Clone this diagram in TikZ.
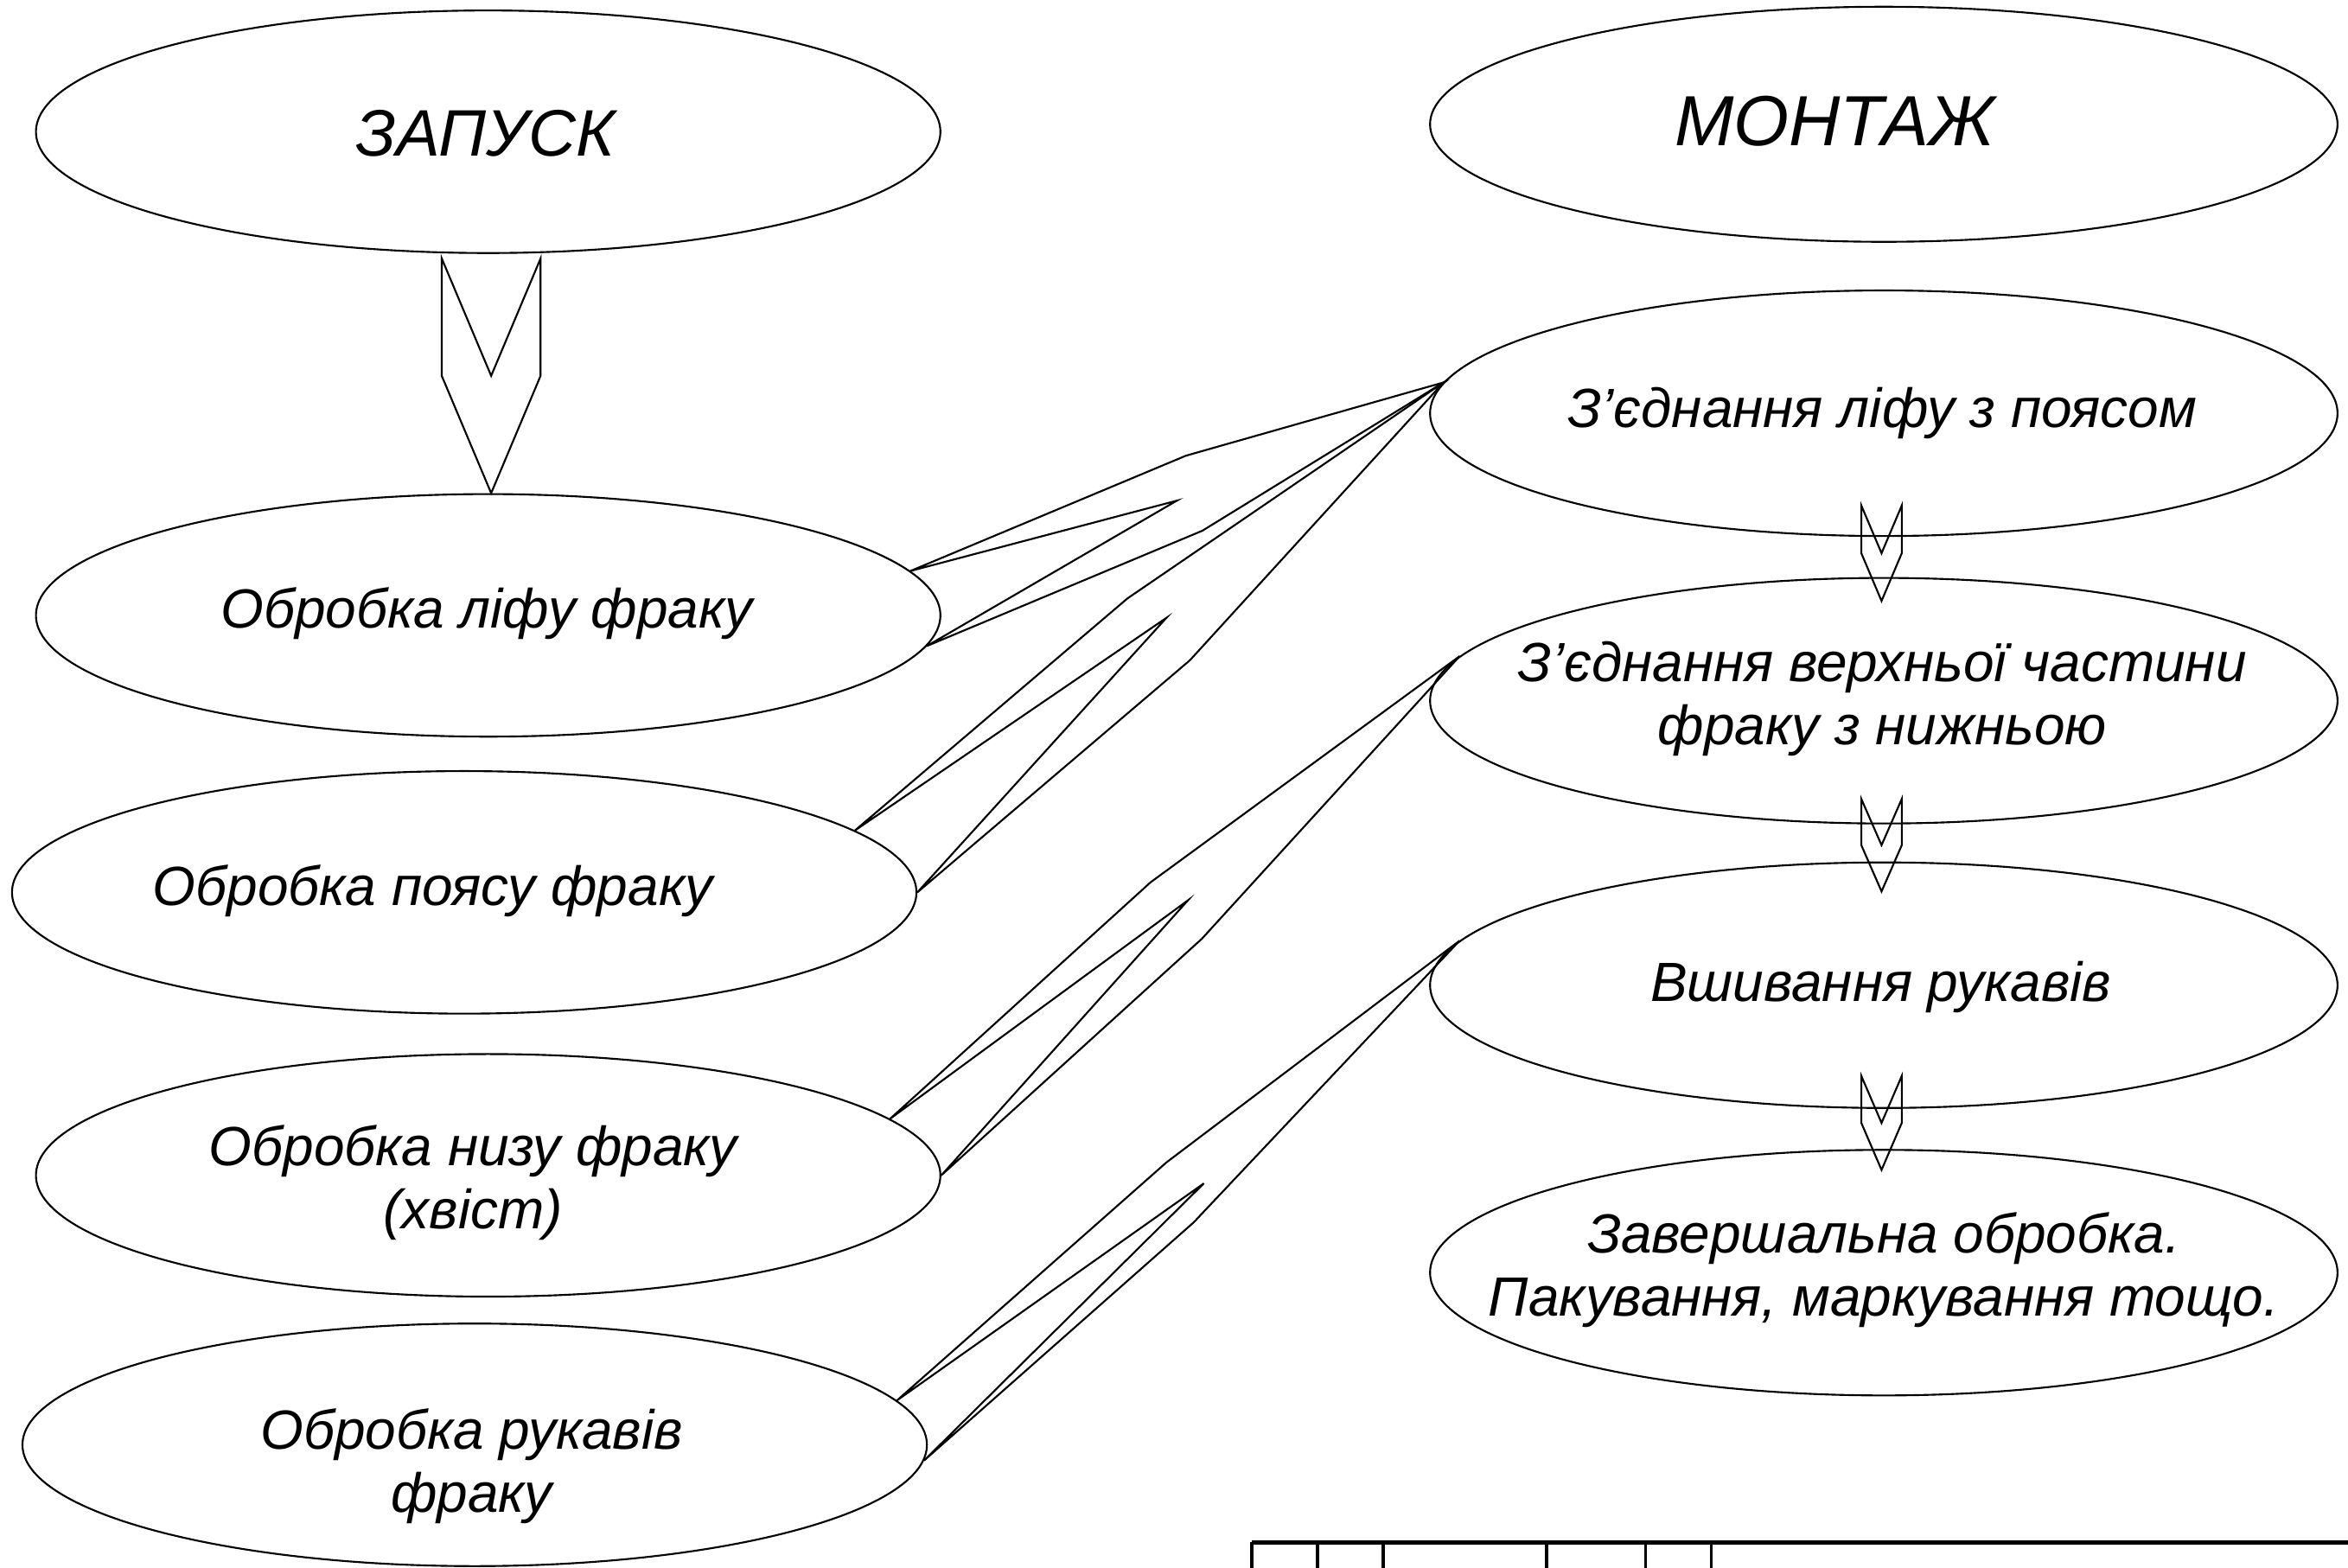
\documentclass[tikz,border=0pt]{standalone}
\usepackage{fontspec}
\setmainfont{Liberation Sans}
\usepackage{tikz}
\usetikzlibrary{calc, shapes.geometric}

\begin{document}
\begin{tikzpicture}[x = 0.1mm, y = -0.1mm,
		outl/.style = {line width = 0.35pt, line join = miter},
		stage/.style = {outl, draw, ellipse, inner sep = 0pt, minimum width = 6.04cm, minimum height = 1.62cm},
		rstage/.style = {stage, minimum width = 6.06cm, minimum height = 1.64cm},
		stagetext/.style = {inner sep = 0pt, align = center, font = \itshape\fontsize{10.5}{12}\selectfont},
		headtext/.style = {inner sep = 0pt, font = \itshape\fontsize{12.5}{15}\selectfont}]

		\def\vchevron#1#2#3{%
			\draw [outl] ($ (#1) + (-#3,0) $) -- ($ (#1)!0.5!(#2) $) -- ($ (#1) + (#3,0) $) -- ($ (#1)!0.5!(#2) + (#3,0) $) -- (#2) -- ($ (#1)!0.5!(#2) + (-#3,0) $) -- cycle;}
		\def\broadarrow#1#2#3#4#5{%
			\draw [outl] (#1) -- ($ (#1) + (#4) $) -- (#3) -- ($ (#2) + (#4) $) -- (#2) -- ($ (#1) + (#5) $) -- cycle;}

		\useasboundingbox (0,0) rectangle (1568,1047);

		% left column
		\node [stage] (zapusk) at (326,88) {};
		\node [stage] (lif) at (326,411) {};
		\node [stage] (poyas) at (310,596) {};
		\node [stage] (niz) at (326,785) {};
		\node [stage] (rukava) at (317,965) {};

		\node [headtext] (zapusk-t) at (324,89) {ЗАПУСК};
		\node [stagetext] (lif-t) at (325,410) {Обробка ліфу фраку};
		\node [stagetext] (poyas-t) at (289,595) {Обробка поясу фраку};
		\node [stagetext] (niz-t) at (316,790) {Обробка низу фраку\\(хвіст)};
		\node [stagetext] (rukava-t) at (315,979) {Обробка рукавів\\фраку};

		% right column
		\node [rstage, minimum height = 1.57cm] (montazh) at (1258,83) {};
		\node [rstage] (zlif) at (1258,276) {};
		\node [rstage] (zverh) at (1258,468) {};
		\node [rstage] (vshyv) at (1258,658) {};
		\node [rstage] (zaversh) at (1258,850) {};

		\node [headtext, font = \itshape\fontsize{13.5}{16}\selectfont] (montazh-t) at (1225,81) {МОНТАЖ};
		\node [stagetext] (zlif-t) at (1257,276) {З’єднання ліфу з поясом};
		\node [stagetext] (zverh-t) at (1257,467) {З’єднання верхньої частини\\фраку з нижньою};
		\node [stagetext] (vshyv-t) at (1256,659) {Вшивання рукавів};
		\node [stagetext] (zaversh-t) at (1258,848) {Завершальна обробка.\\Пакування, маркування тощо.};

		% down arrows
		\coordinate (v1a) at ($ (zapusk.south) + (2,3) $);
		\coordinate (v1b) at ($ (lif.north) + (2,0) $);
		\vchevron{v1a}{v1b}{33}

		\coordinate (v2a) at ($ (zlif.south) + (-1.5,-21) $);
		\coordinate (v2b) at ($ (zverh.north) + (-1.5,16) $);
		\vchevron{v2a}{v2b}{13.5}

		\coordinate (v3a) at ($ (zverh.south) + (-1.5,-17) $);
		\coordinate (v3b) at ($ (vshyv.north) + (-1.5,20) $);
		\vchevron{v3a}{v3b}{13.5}

		\coordinate (v4a) at ($ (vshyv.south) + (-1.5,-22) $);
		\coordinate (v4b) at ($ (zaversh.north) + (-1.5,14) $);
		\vchevron{v4a}{v4b}{13.5}

		% broad arrows into the assembly
		\coordinate (a1) at (lif.6.3);
		\coordinate (a2) at (lif.-4.1);
		\coordinate (aP) at (zlif.176.3);
		\broadarrow{a1}{a2}{aP}{184,-77}{178,-47}

		\coordinate (b1) at (poyas.9.1);
		\coordinate (b2) at (poyas.-0.4);
		\broadarrow{b1}{b2}{aP}{182,-155}{208,-142}

		\coordinate (c1) at (niz.8.4);
		\coordinate (c2) at (niz.-0.2);
		\coordinate (cP) at (zverh.174);
		\broadarrow{c1}{c2}{cP}{174,-158}{199,-146}

		\coordinate (d1) at (rukava.6.7);
		\coordinate (d2) at (rukava.-2.7);
		\coordinate (dP) at (vshyv.174.4);
		\broadarrow{d1}{d2}{dP}{180,-159}{205,-145}

		% title block stub
		\draw [line width = 0.8pt] (836,1030) -- (1568,1030);
		\draw [line width = 0.6pt] (836,1030) -- (836,1047) (880,1030) -- (880,1047) (923.6,1030) -- (923.6,1047)
			(1032.7,1030) -- (1032.7,1047) (1099,1030) -- (1099,1047) (1142.7,1030) -- (1142.7,1047);
	\end{tikzpicture}
\end{document}
